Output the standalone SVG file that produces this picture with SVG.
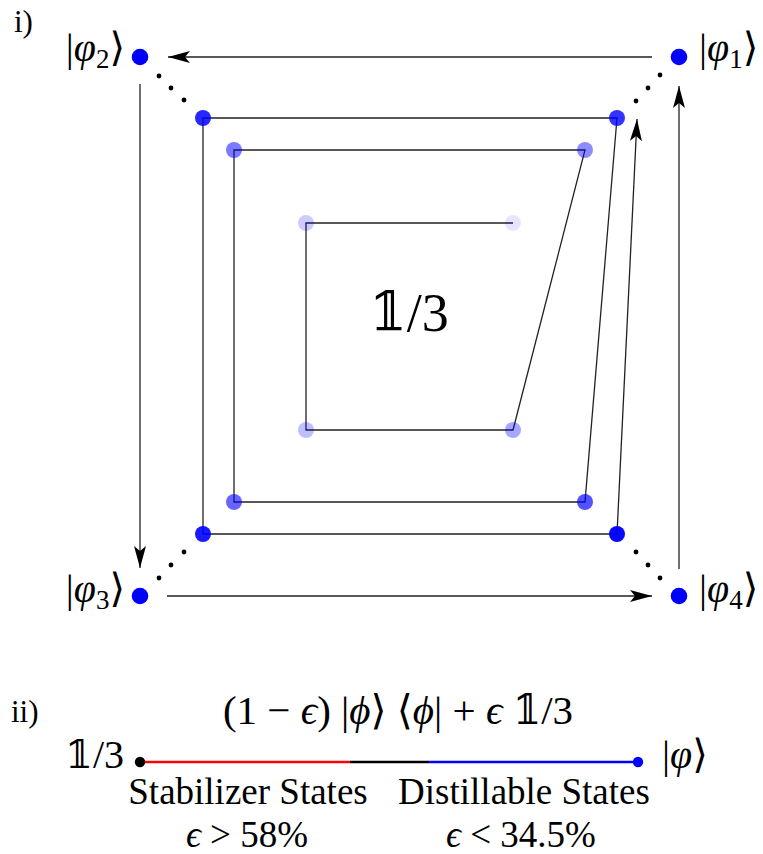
<svg xmlns="http://www.w3.org/2000/svg" width="763" height="854" viewBox="0 0 763 854">
<style>
text{font-family:"Liberation Serif","DejaVu Serif","DejaVu Sans",serif;fill:#000}
.lbl{font-size:40px}
.it{font-style:italic}
.bb{font-family:"DejaVu Serif","DejaVu Sans",serif}
.ln{stroke:#222;stroke-width:1.3;fill:none}
.dot{fill:#0000ff}
.sd{fill:#000}
</style>
<defs>
<marker id="ah" viewBox="0 0 22 12" refX="22" refY="6" markerWidth="22" markerHeight="12" markerUnits="userSpaceOnUse" orient="auto">
<path d="M0,0 L22,6 L0,12 L5,6 Z" fill="#000"/>
</marker>
</defs>
<text x="14" y="32" font-size="31">i)</text>
<g id="connectors">
<line class="ln" x1="652" y1="57" x2="168" y2="57" marker-end="url(#ah)"/>
<line class="ln" x1="140" y1="84" x2="140" y2="568" marker-end="url(#ah)"/>
<line class="ln" x1="167" y1="596" x2="652" y2="596" marker-end="url(#ah)"/>
<line class="ln" x1="679" y1="569" x2="679" y2="86" marker-end="url(#ah)"/>
<polyline class="ln" points="513,223 306,223 306,430 513,430 585,150 234,150 234,502 585,502 617,118 203,118 203,534 617,534"/>
<line class="ln" x1="617" y1="534" x2="637" y2="119" marker-end="url(#ah)"/>
<g class="sd">
<circle cx="159" cy="76" r="2.4"/><circle cx="171" cy="88" r="2.4"/><circle cx="184" cy="100" r="2.4"/>
<circle cx="636" cy="101" r="2.4"/><circle cx="648" cy="88" r="2.4"/><circle cx="660" cy="75" r="2.4"/>
<circle cx="184" cy="552" r="2.4"/><circle cx="171" cy="565" r="2.4"/><circle cx="159" cy="578" r="2.4"/>
<circle cx="636" cy="552" r="2.4"/><circle cx="648" cy="565" r="2.4"/><circle cx="660" cy="578" r="2.4"/>
</g>
</g>
<g id="inner">
<circle class="dot" cx="513" cy="223" r="8" fill-opacity="0.1"/>
<circle class="dot" cx="306" cy="223" r="8" fill-opacity="0.2"/>
<circle class="dot" cx="306" cy="430" r="8" fill-opacity="0.25"/>
<circle class="dot" cx="513" cy="430" r="8" fill-opacity="0.35"/>
</g>
<g id="ring3">
<circle class="dot" cx="585" cy="150" r="8" fill-opacity="0.45"/>
<circle class="dot" cx="234" cy="150" r="8" fill-opacity="0.52"/>
<circle class="dot" cx="234" cy="502" r="8" fill-opacity="0.6"/>
<circle class="dot" cx="585" cy="502" r="8" fill-opacity="0.68"/>
</g>
<g id="ring2">
<circle class="dot" cx="617" cy="118" r="8" fill-opacity="0.8"/>
<circle class="dot" cx="203" cy="118" r="8" fill-opacity="0.85"/>
<circle class="dot" cx="203" cy="534" r="8" fill-opacity="0.9"/>
<circle class="dot" cx="617" cy="534" r="8" fill-opacity="0.97"/>
</g>
<g id="phi1"><circle class="dot" cx="679" cy="57" r="8.3"/>
<text class="lbl" x="699" y="61">|<tspan class="it">φ</tspan><tspan font-size="27" dy="7">1</tspan><tspan dy="-7">⟩</tspan></text></g>
<g id="phi2"><circle class="dot" cx="140" cy="57" r="8.3"/>
<text class="lbl" x="125" y="61" text-anchor="end">|<tspan class="it">φ</tspan><tspan font-size="27" dy="7">2</tspan><tspan dy="-7">⟩</tspan></text></g>
<g id="phi3"><circle class="dot" cx="140" cy="596" r="8.3"/>
<text class="lbl" x="125" y="602" text-anchor="end">|<tspan class="it">φ</tspan><tspan font-size="27" dy="7">3</tspan><tspan dy="-7">⟩</tspan></text></g>
<g id="phi4"><circle class="dot" cx="679" cy="596" r="8.3"/>
<text class="lbl" x="699" y="602">|<tspan class="it">φ</tspan><tspan font-size="27" dy="7">4</tspan><tspan dy="-7">⟩</tspan></text></g>
<g id="center"><text x="409" y="331" font-size="54" text-anchor="middle"><tspan class="bb">𝟙</tspan>/3</text></g>
<g id="part2">
<text x="11" y="722" font-size="31">ii)</text>
<text x="398" y="724" font-size="41" text-anchor="middle">(1 − <tspan class="it">ϵ</tspan>) |<tspan class="it">ϕ</tspan>⟩ ⟨<tspan class="it">ϕ</tspan>| + <tspan class="it">ϵ</tspan> <tspan class="bb">𝟙</tspan>/3</text>
<line x1="140" y1="762" x2="350" y2="762" stroke="#ff0000" stroke-width="2.6"/>
<line x1="350" y1="762" x2="429" y2="762" stroke="#000" stroke-width="2.6"/>
<line x1="429" y1="762" x2="638" y2="762" stroke="#0000ff" stroke-width="2.6"/>
<circle cx="140" cy="762" r="5.2" fill="#000"/>
<circle cx="638" cy="762" r="5.2" fill="#0000ff"/>
<text x="124" y="768" font-size="40" text-anchor="end"><tspan class="bb">𝟙</tspan>/3</text>
<text x="662" y="768" font-size="40">|<tspan class="it">φ</tspan>⟩</text>
<text x="248" y="804" font-size="37" text-anchor="middle">Stabilizer States</text>
<text x="524" y="804" font-size="37" text-anchor="middle">Distillable States</text>
<text x="247" y="847" font-size="37" text-anchor="middle"><tspan class="it">ϵ</tspan> &gt; 58%</text>
<text x="521" y="847" font-size="37" text-anchor="middle"><tspan class="it">ϵ</tspan> &lt; 34.5%</text>
</g>
</svg>
